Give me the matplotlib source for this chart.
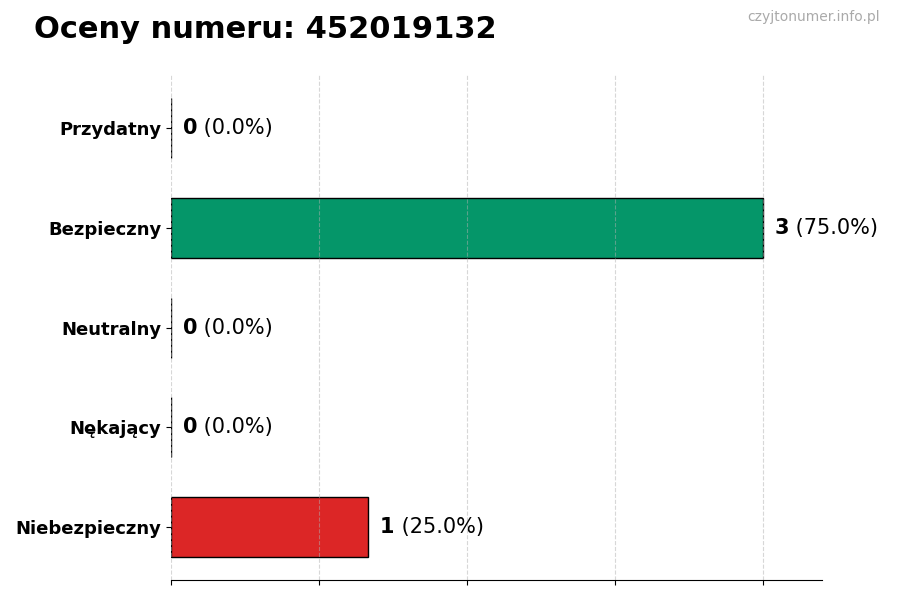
import matplotlib.pyplot as plt

numer = "452019132"
kategorie = ["Przydatny", "Bezpieczny", "Neutralny", "Nękający", "Niebezpieczny"]
wartosci = [0, 3, 0, 0, 1]
kolory = ["#6b7280", "#059669", "#9ca3af", "#f59e0b", "#dc2626"]

suma = sum(wartosci)
fig, ax = plt.subplots(figsize=(9, 6), dpi=100)
fig.subplots_adjust(left=0.19, right=0.913, top=0.875, bottom=0.033)

y = list(range(len(kategorie)))[::-1]
ax.barh(y, wartosci, height=0.6, color=kolory, edgecolor="black", linewidth=1)
ax.set_yticks(y)
ax.set_yticklabels(kategorie, fontsize=13, fontweight="bold")
ax.set_xlim(0, max(wartosci) * 1.1)
ax.set_xticks([i * max(wartosci) / 4 for i in range(5)])
ax.set_xticklabels([])
ax.grid(axis="x", linestyle="--", alpha=0.5)
for s in ["top", "right", "left"]:
    ax.spines[s].set_visible(False)

for yi, v in zip(y, wartosci):
    pct = v / suma * 100
    x0 = v + 0.06
    t = ax.text(x0, yi, f"{v}", va="center", ha="left", fontsize=15, fontweight="bold")
    fig.canvas.draw()
    bb = t.get_window_extent().transformed(ax.transData.inverted())
    ax.text(bb.x1, yi, f" ({pct:.1f}%)", va="center", ha="left", fontsize=15)

fig.text(0.038, 0.95, f"Oceny numeru: {numer}", fontsize=22, fontweight="bold", va="center")
fig.text(0.978, 0.972, "czyjtonumer.info.pl", fontsize=10, color="#aaaaaa", ha="right", va="center")

fig.savefig("out.png")
